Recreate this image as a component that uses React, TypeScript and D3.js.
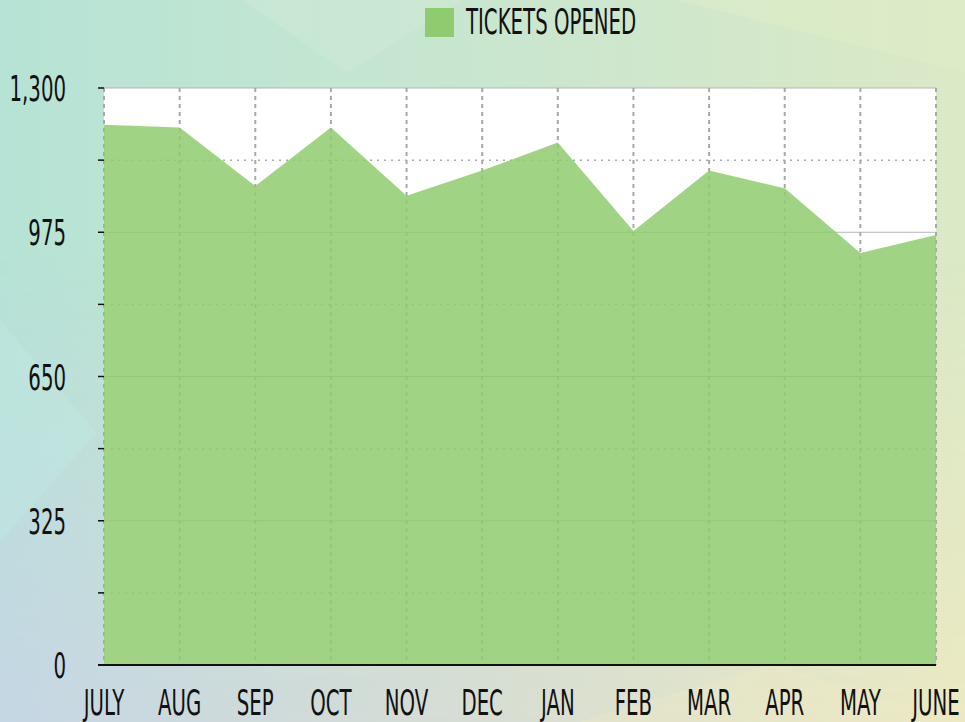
import React from 'react';
import * as d3 from 'd3';

// tickets opened per month (fiscal year July -> June)
const months = ['JULY','AUG','SEP','OCT','NOV','DEC','JAN','FEB','MAR','APR','MAY','JUNE'];
const ticketsOpened = [1217,1211,1079,1211,1057,1114,1177,978,1114,1074,928,969];
const yTickValues = [0,325,650,975,1300];
const legendLabel = 'TICKETS OPENED';

const W = 965, H = 722;
const margin = {top: 88, right: 29, bottom: 57, left: 104};
const green = '#8fcc6f';
const font = '"DejaVu Sans Condensed","DejaVu Sans",sans-serif';
const squeeze = 0.61;

const Label = ({x, y, anchor, children}: any) => (
  <g transform={`translate(${x},${y}) scale(${squeeze},1)`}>
    <text textAnchor={anchor} fontFamily={font} fontStretch="condensed" fontSize={36} fill="#111">{children}</text>
  </g>
);

export default function App() {
  const x = d3.scalePoint<string>().domain(months).range([margin.left, W - margin.right]);
  const y = d3.scaleLinear().domain([0, 1300]).range([H - margin.bottom, margin.top]);
  const minorTicks = d3.pairs(yTickValues).map(([a, b]) => (a + b) / 2);
  const fmt = d3.format(',');

  const area = d3.area<number>()
    .x((d, i) => x(months[i]) as number)
    .y0(y(0))
    .y1(d => y(d));

  const x0 = margin.left, x1 = W - margin.right;

  return (
    <svg width={W} height={H} style={{position: 'absolute', left: 0, top: 0}}>
      <defs>
        <linearGradient id="bgTop" x1="0" x2="1" y1="0" y2="0">
          <stop offset="0%" stopColor="#b6e3d6" />
          <stop offset="50%" stopColor="#c9e6cf" />
          <stop offset="100%" stopColor="#dbe9c6" />
        </linearGradient>
        <linearGradient id="bgBottom" x1="0" x2="1" y1="0" y2="0">
          <stop offset="0%" stopColor="#c5d6e4" />
          <stop offset="50%" stopColor="#d7ddd3" />
          <stop offset="100%" stopColor="#ebe9c2" />
        </linearGradient>
        <linearGradient id="fadeV" x1="0" x2="0" y1="0" y2="1">
          <stop offset="35%" stopColor="#fff" stopOpacity={0} />
          <stop offset="100%" stopColor="#fff" stopOpacity={1} />
        </linearGradient>
        <mask id="bgMask">
          <rect width={W} height={H} fill="url(#fadeV)" />
        </mask>
      </defs>

      {/* background */}
      <rect width={W} height={H} fill="url(#bgTop)" />
      <rect width={W} height={H} fill="url(#bgBottom)" mask="url(#bgMask)" />
      <polygon points={`0,320 ${W*0.1},${H*0.6} 0,${H*0.75}`} fill="#bfe8e2" opacity={0.5} />
      <polygon points={`${W*0.25},0 ${W*0.48},0 ${W*0.36},${H*0.1}`} fill="#d2ead6" opacity={0.4} />
      <polygon points={`${W*0.7},0 ${W},0 ${W},${H*0.1}`} fill="#e0edc8" opacity={0.5} />
      <polygon points={`${W*0.6},${H} ${W*0.8},${H*0.92} ${W},${H}`} fill="#ede9c6" opacity={0.4} />

      {/* plot */}
      <rect x={x0} y={y(1300)} width={x1 - x0} height={y(0) - y(1300)} fill="#fff" />

      {/* grid, under the translucent area */}
      {minorTicks.map(t => (
        <line key={'m' + t} x1={x0} x2={x1} y1={y(t)} y2={y(t)} stroke="#aaa" strokeWidth={1.5} strokeDasharray="2,5" />
      ))}
      {yTickValues.filter(t => t > 0).map(t => (
        <line key={'g' + t} x1={x0} x2={x1} y1={y(t)} y2={y(t)} stroke="#b4b4b4" strokeWidth={1} />
      ))}
      {months.map(m => (
        <line key={'v' + m} x1={x(m)} x2={x(m)} y1={y(1300)} y2={y(0)} stroke="#a8a8a8" strokeWidth={2} strokeDasharray="4,4" />
      ))}

      <path d={area(ticketsOpened) as string} fill={green} fillOpacity={0.85} />

      {/* y axis ticks */}
      {yTickValues.concat(minorTicks).map(t => (
        <line key={'t' + t} x1={x0 - 6} x2={x0} y1={y(t)} y2={y(t)} stroke="#111" strokeWidth={1.5} />
      ))}
      <line x1={x0 - 6} x2={x1} y1={y(0)} y2={y(0)} stroke="#111" strokeWidth={2} />

      {yTickValues.map(t => (
        <Label key={'yl' + t} x={66} y={y(t) + 13} anchor="end">{fmt(t)}</Label>
      ))}
      {months.map(m => (
        <Label key={'xl' + m} x={x(m)} y={715} anchor="middle">{m}</Label>
      ))}

      {/* legend */}
      <rect x={425} y={8} width={29} height={29} fill={green} />
      <Label x={466} y={34} anchor="start">{legendLabel}</Label>
    </svg>
  );
}
